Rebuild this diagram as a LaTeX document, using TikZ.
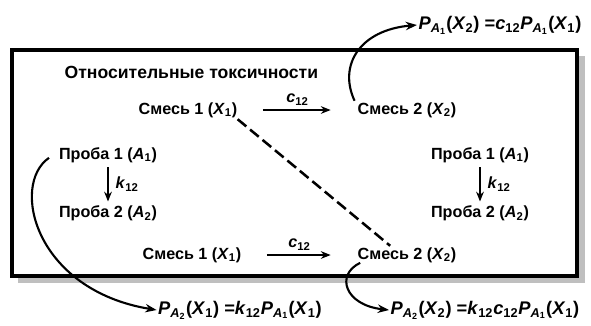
\documentclass[tikz,border=0pt]{standalone}
\usepackage{fontspec}
\setmainfont{Liberation Sans}
\usetikzlibrary{arrows.meta,positioning}

\newcommand\subs[1]{\textsubscript{#1}}
\newcommand\vX[1]{\textit{X}\subs{#1}}
\newcommand\vA[1]{\textit{A}\subs{#1}}
\newcommand\PA[1]{\textit{P}\subs{\textit{A}\subs{#1}}}

\begin{document}
\begin{tikzpicture}[x=0.025cm,y=-0.025cm,node distance=1.0cm,>=Stealth,
  every node/.style={font=\bfseries\fontsize{11.5}{13}\selectfont,inner sep=1pt},
  formula/.style={font=\bfseries\fontsize{13}{15}\selectfont},
  link/.style={-{Stealth[length=7pt,width=5.5pt]},line width=0.9pt,shorten <=17pt,shorten >=18pt},
  curvearrow/.style={-{Stealth[length=8pt,width=6pt]},line width=1.5pt}]
\useasboundingbox (0,0) rectangle (591,325);
% frame with shadow
\fill[gray!50] (18,56) rectangle (585,283);
\draw[line width=3.5pt,fill=white] (12,50) rectangle (577,276);

\node[anchor=west,font=\bfseries\fontsize{12.5}{14}\selectfont] (title) at (63,72) {Относительные токсичности};
\node (mixA) at (188,110) {Смесь 1 (\vX1)};
\node (mixB) at (407,110) {Смесь 2 (\vX2)};
\node (probL1) at (108,155) {Проба 1 (\vA1)};
\node[below=of probL1] (probL2) {Проба 2 (\vA2)};
\node (probR1) at (480,155) {Проба 1 (\vA1)};
\node[below=of probR1] (probR2) {Проба 2 (\vA2)};
\node (mixC) at (192,255) {Смесь 1 (\vX1)};
\node (mixD) at (407,255) {Смесь 2 (\vX2)};
\node[formula] (fA) at (500,25) {\PA1(\vX2) =\textit{c}\subs{12}\PA1(\vX1)};
\node[formula] (fB) at (240,310) {\PA2(\vX1) =\textit{k}\subs{12}\PA1(\vX1)};
\node[formula] (fC) at (485,310) {\PA2(\vX2) =\textit{k}\subs{12}\textit{c}\subs{12}\PA1(\vX1)};

\draw[link] (mixA) -- node[above=2pt] {\textit{c}\subs{12}} (mixB);
\draw[link] (mixC) -- node[above=2pt] {\textit{c}\subs{12}} (mixD);
\draw[link,shorten <=2pt,shorten >=2pt] (probL1) -- node[right=4pt] {\textit{k}\subs{12}} (probL2);
\draw[link,shorten <=2pt,shorten >=2pt] (probR1) -- node[right=4pt] {\textit{k}\subs{12}} (probR2);
\draw[line width=1.8pt,dash pattern=on 8pt off 3.5pt] ([xshift=-1pt]mixA.south east) -- ([xshift=-12pt]mixD.north);

\draw[curvearrow] ([xshift=-1pt]mixB.north west) .. controls (338,65) and (360,30) .. (fA.west);
\draw[curvearrow] ([xshift=-6pt,yshift=-2pt]probL1.west) .. controls (10,185) and (35,290) .. (fB.west);
\draw[curvearrow] ([xshift=3pt,yshift=1pt]mixD.south west) .. controls (335,275) and (345,305) .. (fC.west);
\end{tikzpicture}
\end{document}
